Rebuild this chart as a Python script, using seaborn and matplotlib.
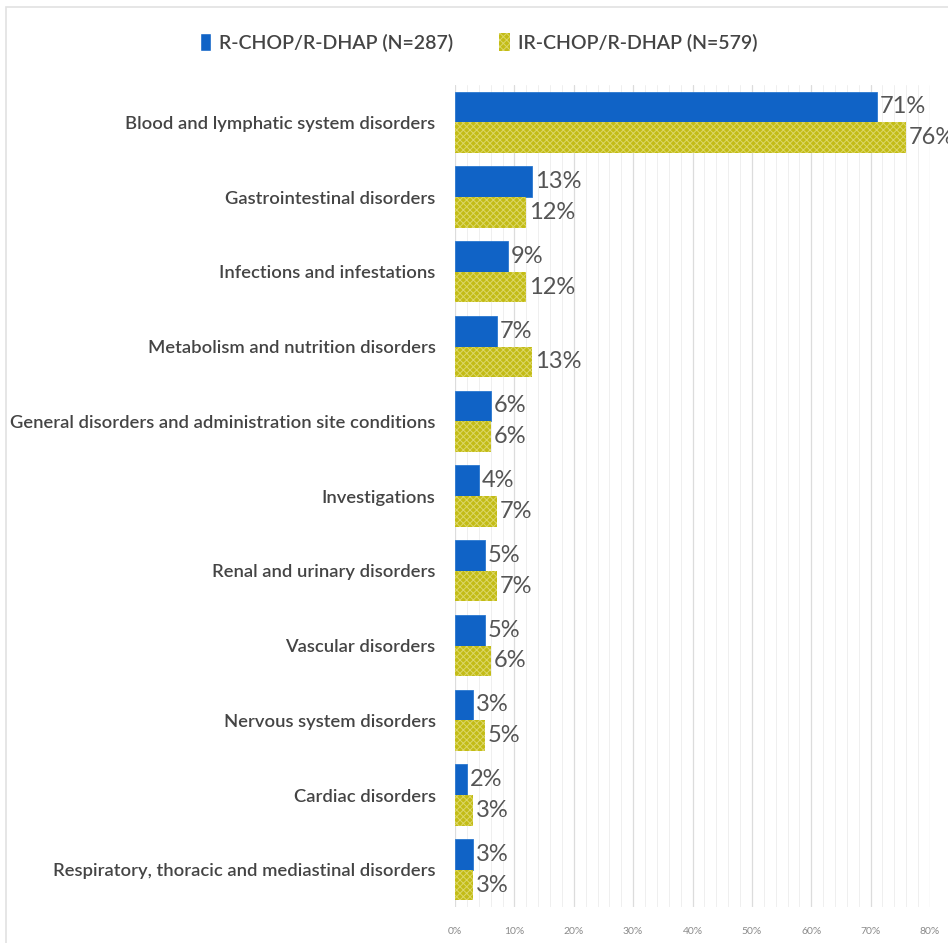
import matplotlib
matplotlib.use("Agg")
import matplotlib.pyplot as plt
from matplotlib.patches import Rectangle
from matplotlib.ticker import MultipleLocator, PercentFormatter
import seaborn as sns
import pandas as pd

categories = [
    "Blood and lymphatic system disorders",
    "Gastrointestinal disorders",
    "Infections and infestations",
    "Metabolism and nutrition disorders",
    "General disorders and administration site conditions",
    "Investigations",
    "Renal and urinary disorders",
    "Vascular disorders",
    "Nervous system disorders",
    "Cardiac disorders",
    "Respiratory, thoracic and mediastinal disorders",
]
series_names = ["R-CHOP/R-DHAP (N=287)", "IR-CHOP/R-DHAP (N=579)"]
r_chop = [71, 13, 9, 7, 6, 4, 5, 5, 3, 2, 3]
ir_chop = [76, 12, 12, 13, 6, 7, 7, 6, 5, 3, 3]
x_ticks = [0, 10, 20, 30, 40, 50, 60, 70, 80]

df = pd.DataFrame({
    "category": categories * 2,
    "arm": [series_names[0]] * len(categories) + [series_names[1]] * len(categories),
    "pct": r_chop + ir_chop,
})

sns.set_theme(style="white")
plt.rcParams["font.family"] = ["Lato", "DejaVu Sans"]
plt.rcParams["hatch.linewidth"] = 0.7

fig = plt.figure(figsize=(9.48, 9.43), dpi=100)
ax = fig.add_axes([0.48, 0.038, 0.501, 0.872])

blue = "#1063c6"
yellow = "#c3bc16"
hatch_col = "#dcd768"
sns.barplot(data=df, y="category", x="pct", hue="arm", order=categories,
            hue_order=series_names, palette=[blue, yellow], width=0.82,
            orient="h", ax=ax, legend=False, saturation=1)

# crosshatch texture on the second arm
for patch in ax.containers[1]:
    patch.set_hatch("xxxxx")
    patch.set_edgecolor(hatch_col)
    patch.set_linewidth(0.0)
for patch in ax.containers[0]:
    patch.set_edgecolor("#2a78d0")
    patch.set_linewidth(0.6)

for cont in ax.containers:
    ax.bar_label(cont, labels=[f"{v:g}%" for v in cont.datavalues],
                 padding=2, fontsize=17, color="#555555")

ax.set_xlim(0, 80)
ax.set_ylim(len(categories) - 0.5, -0.5)
ax.set_xticks(x_ticks)
ax.xaxis.set_major_formatter(PercentFormatter(decimals=0))
ax.xaxis.set_minor_locator(MultipleLocator(2))
ax.grid(axis="x", which="major", color="#dcdcdc", linewidth=0.9)
ax.grid(axis="x", which="minor", color="#efefef", linewidth=0.7)
ax.set_axisbelow(True)
ax.tick_params(axis="x", labelsize=7.5, colors="#8a8a8a", length=0, pad=14)
ax.tick_params(axis="y", labelsize=13.2, colors="#444444", length=0, pad=14)
for lbl in ax.get_yticklabels():
    lbl.set_fontweight("semibold")
ax.set_xlabel("")
ax.set_ylabel("")
for s in ax.spines.values():
    s.set_visible(False)

handles = [Rectangle((0, 0), 1, 1, facecolor=blue),
           Rectangle((0, 0), 1, 1, facecolor=yellow, hatch="xxxxx", edgecolor=hatch_col, linewidth=0)]
fig.legend(handles, series_names, loc="center", bbox_to_anchor=(0.505, 0.955),
           ncol=2, frameon=False, handlelength=0.55, handleheight=1.0,
           handletextpad=0.4, columnspacing=2.4, labelcolor="#444444",
           prop={"weight": "semibold", "size": 14})

fig.patches.append(Rectangle((0.006, -0.01), 1.0, 1.003, transform=fig.transFigure,
                             fill=False, edgecolor="#e2e2e2", linewidth=1.2))

fig.savefig("out.png", dpi=100)
